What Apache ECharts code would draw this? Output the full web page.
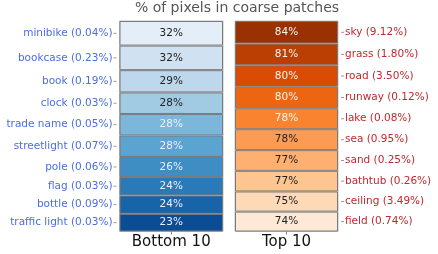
<!DOCTYPE html>
<html><head><meta charset="utf-8">
<script src="https://cdn.jsdelivr.net/npm/echarts@6/dist/echarts.min.js"></script>
<style>html,body{margin:0;padding:0;background:#fff}#c{width:438px;height:254px}</style>
</head><body><div id="c"></div>
<script>
// Data (top row first)
const bottomNames = ['minibike','bookcase','book','clock','trade name','streetlight','pole','flag','bottle','traffic light'];
const bottomShares = ['0.04%','0.23%','0.19%','0.03%','0.05%','0.07%','0.06%','0.03%','0.09%','0.03%'];
const bottomValues = [32,32,29,28,28,28,26,24,24,23];
const topNames = ['sky','grass','road','runway','lake','sea','sand','bathtub','ceiling','field'];
const topShares = ['9.12%','1.80%','3.50%','0.12%','0.08%','0.95%','0.25%','0.26%','3.49%','0.74%'];
const topValues = [84,81,80,80,78,78,77,77,75,74];
const columnLabels = ['Bottom 10','Top 10'];
const titleText = '% of pixels in coarse patches';

// Styles
const bluePalette = ['#e3eef9','#d0e1f2','#bdd7ec','#a1cbe2','#7cb7da','#5ba3d0','#3e8ec4','#2a7ab9','#1764ab','#0b4d94'];
const blueText = ['#222','#222','#222','#222','#eef','#eef','#eef','#eef','#eef','#eef'];
const orangePalette = ['#993103','#bb3e03','#da4b04','#ee6511','#fa8330','#fd9b53','#fdb06f','#fdc590','#fdd9b6','#fee8d6'];
const orangeText = ['#f4f4f4','#f4f4f4','#f4f4f4','#f4f4f4','#f4f4f4','#222','#222','#222','#222','#222'];
const FONT = 'DejaVu Sans';

function sum(a){return a.reduce((s,v)=>s+v,0);}

function buildSeries(names, shares, values, palette, textCols, gi, side, labCol){
  const out = [];
  for (let i = values.length - 1; i >= 0; i--) {
    out.push({
      type:'bar', xAxisIndex:gi, yAxisIndex:gi, stack:'v'+gi, barWidth:'100%', barGap:'-100%',
      data:[values[i]],
      itemStyle:{color:palette[i], borderColor:'#7a7a7a', borderWidth:1},
      label:{show:true, position:'inside', formatter:values[i]+'%', color:textCols[i], fontFamily:FONT, fontSize:10.5},
      silent:true, animation:false
    });
  }
  for (let i = values.length - 1; i >= 0; i--) {
    const txt = names[i] + ' (' + shares[i] + ')';
    out.push({
      type:'bar', xAxisIndex:gi, yAxisIndex:gi, stack:'g'+gi, barWidth:'100%', barGap:'-100%',
      data:[values[i]],
      itemStyle:{color:'rgba(0,0,0,0)'},
      label:{show:true, position:side, distance:3,
        formatter: side==='left' ? '{t|'+txt+'}{s|}{k|}' : '{k|}{s|}{t|'+txt+'}',
        rich:{
          t:{color:labCol, fontFamily:FONT, fontSize:10.5},
          s:{width:1, height:1},
          k:{width:3, height:1, backgroundColor:'#999'}
        }},
      silent:true, animation:false
    });
  }
  return out;
}

const chart = echarts.init(document.getElementById('c'), null, {renderer:'canvas'});
chart.setOption({
  animation:false,
  title:{text:titleText, left:232, textAlign:'center', top:-4, textStyle:{fontFamily:FONT, fontSize:14, fontWeight:'normal', color:'#555'}},
  grid:[
    {left:119.5, width:103.5, top:21, height:210.5, show:true, borderColor:'#c0c0c0', borderWidth:1},
    {left:235, width:103, top:21, height:210.5, show:true, borderColor:'#c0c0c0', borderWidth:1}
  ],
  xAxis:[0,1].map(i=>({type:'category', gridIndex:i, data:[columnLabels[i]],
    axisLine:{show:false}, axisTick:{show:true, alignWithLabel:true, length:3, lineStyle:{color:'#888'}},
    axisLabel:{fontFamily:FONT, fontSize:15, color:'#111', margin:3}})),
  yAxis:[
    {type:'value', gridIndex:0, min:0, max:sum(bottomValues), show:false},
    {type:'value', gridIndex:1, min:0, max:sum(topValues), show:false}
  ],
  series:[].concat(
    buildSeries(bottomNames, bottomShares, bottomValues, bluePalette, blueText, 0, 'left', '#4a6ee0'),
    buildSeries(topNames, topShares, topValues, orangePalette, orangeText, 1, 'right', '#c0282d')
  )
});
</script></body></html>
